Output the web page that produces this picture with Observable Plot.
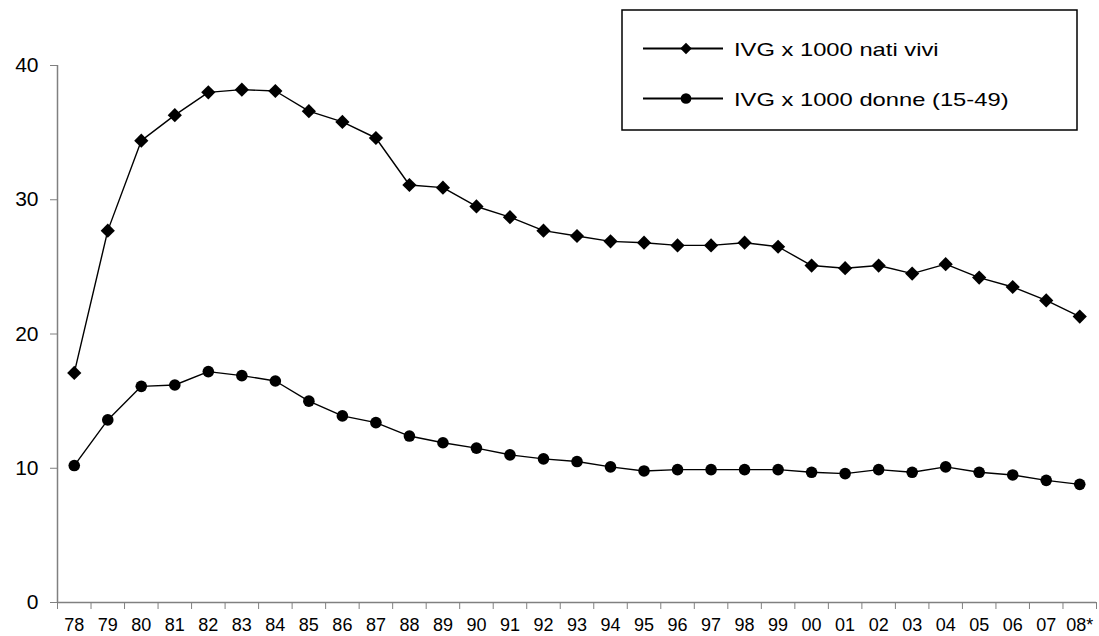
<!DOCTYPE html>
<html>
<head>
<meta charset="utf-8">
<script src="https://cdn.jsdelivr.net/npm/d3@7"></script>
<script src="https://cdn.jsdelivr.net/npm/@observablehq/plot@0.6"></script>
<style>
  html, body { margin: 0; padding: 0; background: #fff; }
  #wrap { position: relative; width: 1099px; height: 636px; font-family: "Liberation Sans", Arial, sans-serif; }
  #legend { position: absolute; left: 621px; top: 9px; }
</style>
</head>
<body>
<div id="wrap"></div>
<script>
const years = ["78","79","80","81","82","83","84","85","86","87","88","89","90","91","92","93","94","95","96","97","98","99","00","01","02","03","04","05","06","07","08*"];
const perBirths = [17.1, 27.7, 34.4, 36.3, 38.0, 38.2, 38.1, 36.6, 35.8, 34.6, 31.1, 30.9, 29.5, 28.7, 27.7, 27.3, 26.9, 26.8, 26.6, 26.6, 26.8, 26.5, 25.1, 24.9, 25.1, 24.5, 25.2, 24.2, 23.5, 22.5, 21.3];
const perWomen = [10.2, 13.6, 16.1, 16.2, 17.2, 16.9, 16.5, 15.0, 13.9, 13.4, 12.4, 11.9, 11.5, 11.0, 10.7, 10.5, 10.1, 9.8, 9.9, 9.9, 9.9, 9.9, 9.7, 9.6, 9.9, 9.7, 10.1, 9.7, 9.5, 9.1, 8.8];
const seriesNames = ["IVG x 1000 nati vivi", "IVG x 1000 donne (15-49)"];
const yTicks = [0, 10, 20, 30, 40];

const idx = years.map((_, i) => i);
const boundaries = d3.range(years.length + 1).map(i => i - 0.5);
const rows1 = idx.map(i => ({i, v: perBirths[i]}));
const rows2 = idx.map(i => ({i, v: perWomen[i]}));

const chart = Plot.plot({
  width: 1099,
  height: 636,
  marginLeft: 57,
  marginRight: 3,
  marginTop: 65,
  marginBottom: 34,
  style: {fontFamily: '"Liberation Sans", Arial, sans-serif', color: "#000", background: "#fff"},
  x: {type: "linear", domain: [-0.5, years.length - 0.5]},
  y: {domain: [0, 40]},
  marks: [
    Plot.axisY(yTicks, {tickSize: 7, tickPadding: 12, fontSize: 21, stroke: "#808080", fill: "#000", label: null}),
    Plot.axisX(boundaries, {tickSize: 7, tickFormat: () => "", stroke: "#808080", label: null}),
    Plot.axisX(idx, {tickSize: 0, tickPadding: 16, fontSize: 18, tickFormat: i => years[i], fill: "#000", label: null}),
    Plot.ruleX([-0.5], {y1: 0, y2: 40, stroke: "#808080", strokeWidth: 1.5}),
    Plot.ruleY([0], {stroke: "#808080", strokeWidth: 1.5}),
    Plot.line(rows1, {x: "i", y: "v", stroke: "#000", strokeWidth: 1.4}),
    Plot.dot(rows1, {x: "i", y: "v", symbol: "diamond2", r: 6.4, fill: "#000", stroke: null}),
    Plot.line(rows2, {x: "i", y: "v", stroke: "#000", strokeWidth: 1.4}),
    Plot.dot(rows2, {x: "i", y: "v", symbol: "circle", r: 5.8, fill: "#000", stroke: null})
  ]
});
document.getElementById("wrap").appendChild(chart);

// Legend box overlaying the top-right of the chart
const lg = d3.select("#wrap").append("svg")
  .attr("id", "legend").attr("width", 458).attr("height", 123);
lg.append("rect").attr("x", 1).attr("y", 1).attr("width", 455).attr("height", 120)
  .attr("fill", "#fff").attr("stroke", "#000").attr("stroke-width", 1.5);
const symbols = [d3.symbolDiamond2, d3.symbolCircle];
const sizes = [85, 90];
seriesNames.forEach((name, k) => {
  const cy = 39.5 + k * 50;
  lg.append("line").attr("x1", 22).attr("x2", 102).attr("y1", cy).attr("y2", cy)
    .attr("stroke", "#000").attr("stroke-width", 2);
  lg.append("path").attr("d", d3.symbol(symbols[k], sizes[k])())
    .attr("transform", `translate(65,${cy})`).attr("fill", "#000");
  lg.append("text").text(name)
    .attr("transform", `translate(113,${cy + 7.5}) scale(1.25,1)`)
    .attr("font-size", 19).attr("font-family", '"Liberation Sans", Arial, sans-serif')
    .attr("fill", "#000");
});
</script>
</body>
</html>
